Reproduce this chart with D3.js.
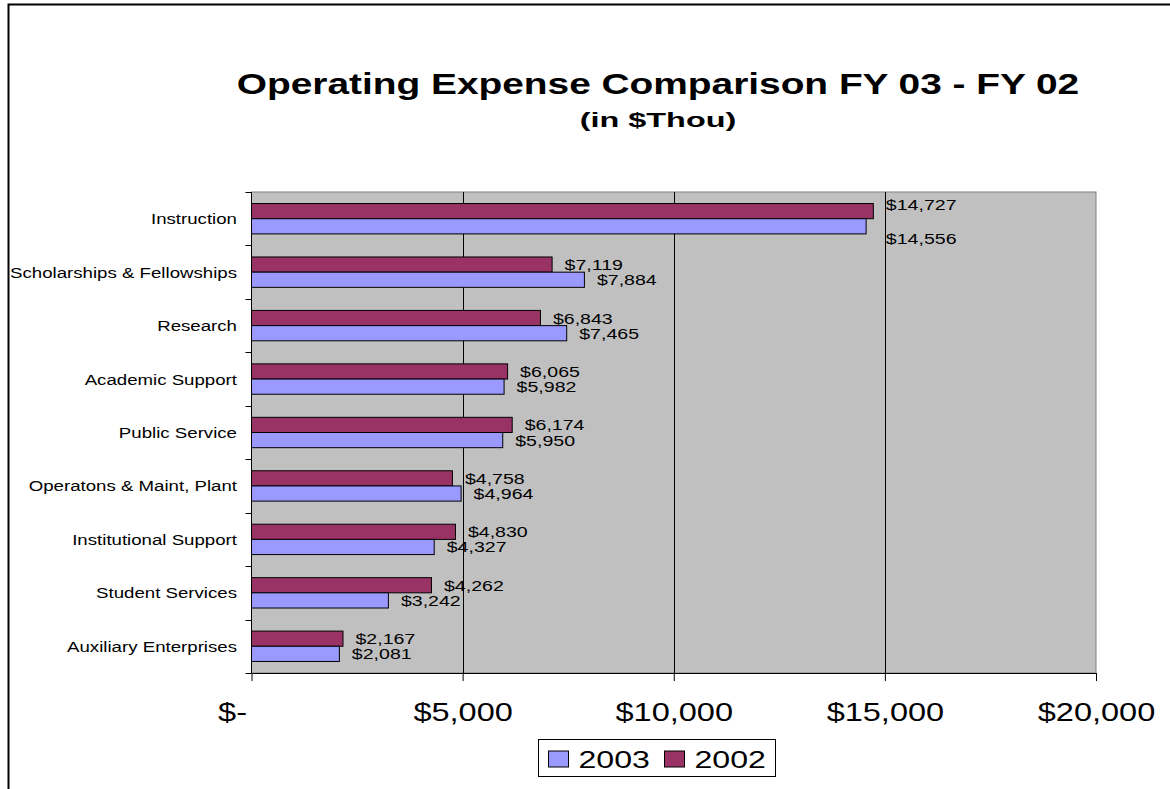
<!DOCTYPE html>
<html>
<head>
<meta charset="utf-8">
<script src="https://cdn.jsdelivr.net/npm/d3@7"></script>
<style>
  html, body { margin: 0; padding: 0; background: #fff; }
  svg { display: block; font-family: "Liberation Sans", Arial, sans-serif; }
</style>
</head>
<body>
<svg id="chart" width="1170" height="789"></svg>
<script>
// data ($ thousands)
const categories = [
  "Instruction",
  "Scholarships & Fellowships",
  "Research",
  "Academic Support",
  "Public Service",
  "Operatons & Maint, Plant",
  "Institutional Support",
  "Student Services",
  "Auxiliary Enterprises"
];
const values2003 = [14556, 7884, 7465, 5982, 5950, 4964, 4327, 3242, 2081];
const values2002 = [14727, 7119, 6843, 6065, 6174, 4758, 4830, 4262, 2167];
const bandOrder = ["2002", "2003"];     // top to bottom inside each category
const legendOrder = ["2003", "2002"];
const xTicks = [0, 5000, 10000, 15000, 20000];
const titleText = "Operating Expense Comparison FY 03 - FY 02";
const subtitleText = "(in $Thou)";

const seriesValues = { "2003": values2003, "2002": values2002 };
const colors = { "2003": "#9999ff", "2002": "#993366" };

const plot = { left: 251.5, right: 1096, top: 192, bottom: 673 };

const svg = d3.select("#chart");

// the original text is drawn wider than it is tall, so stretch it horizontally
function place(sel, x, y, k) {
  sel.attr("transform", `translate(${x},${y}) scale(${k},1)`);
}

const money = d => d === 0 ? "$-" : d3.format("$,")(d);

const x = d3.scaleLinear()
  .domain([xTicks[0], xTicks[xTicks.length - 1]])
  .range([plot.left, plot.right]);

const y = d3.scaleBand()
  .domain(categories)
  .range([plot.top, plot.bottom]);

const ySub = d3.scaleBand()
  .domain(bandOrder)
  .range([0, y.bandwidth()])
  .paddingOuter(0.76);

// outer chart frame
svg.append("rect")
  .attr("x", 8.5).attr("y", 4.5)
  .attr("width", 1200).attr("height", 900)
  .attr("fill", "none")
  .attr("stroke", "#000")
  .attr("stroke-width", 2);

// titles
svg.append("text")
  .attr("text-anchor", "middle")
  .attr("font-size", 29)
  .attr("font-weight", "bold")
  .text(titleText)
  .call(place, 658, 94, 1.34);

svg.append("text")
  .attr("text-anchor", "middle")
  .attr("font-size", 20)
  .attr("font-weight", "bold")
  .text(subtitleText)
  .call(place, 658, 127, 1.62);

// plot area
svg.append("rect")
  .attr("x", plot.left).attr("y", plot.top)
  .attr("width", plot.right - plot.left)
  .attr("height", plot.bottom - plot.top)
  .attr("fill", "#c0c0c0")
  .attr("stroke", "#808080");

// vertical gridlines
svg.append("g")
  .selectAll("line")
  .data(xTicks.slice(1, -1))
  .enter()
  .append("line")
    .attr("x1", d => Math.round(x(d)) + 0.5)
    .attr("x2", d => Math.round(x(d)) + 0.5)
    .attr("y1", plot.top)
    .attr("y2", plot.bottom)
    .attr("stroke", "#000");

// bars
const rows = svg.append("g")
  .selectAll("g")
  .data(categories)
  .enter()
  .append("g")
    .attr("transform", d => `translate(0,${y(d)})`);

rows.selectAll("rect")
  .data((c, i) => bandOrder.map(s => ({ series: s, value: seriesValues[s][i] })))
  .enter()
  .append("rect")
    .attr("x", x(0))
    .attr("y", d => ySub(d.series))
    .attr("width", d => x(d.value) - x(0))
    .attr("height", ySub.bandwidth())
    .attr("fill", d => colors[d.series])
    .attr("stroke", "#000")
    .attr("stroke-width", 1);

// value labels; the Instruction pair was moved clear of its bars in the original
const labelNudge = { "Instruction": { "2002": -7, "2003": 12 } };

rows.each(function (c, i) {
  const nudge = labelNudge[c];
  const reach = nudge ? d3.max(bandOrder, s => seriesValues[s][i]) : null;
  d3.select(this).selectAll("text")
    .data(bandOrder.map(s => ({ series: s, value: seriesValues[s][i] })))
    .enter()
    .append("text")
      .attr("font-size", 15.4)
      .attr("fill", "#000")
      .text(d => money(d.value))
      .each(function (d) {
        const lx = x(reach !== null ? reach : d.value) + 12.5;
        const ly = ySub(d.series) + ySub.bandwidth() / 2 + 5.5 + (nudge ? nudge[d.series] : 0);
        d3.select(this).call(place, lx, ly, 1.27);
      });
});

// category axis (ticks sit on the band boundaries)
const yAxis = svg.append("g");
yAxis.append("line")
  .attr("x1", plot.left).attr("x2", plot.left)
  .attr("y1", plot.top).attr("y2", plot.bottom)
  .attr("stroke", "#000");

yAxis.selectAll("line.tick")
  .data(categories.map(c => y(c)).concat([plot.bottom]))
  .enter()
  .append("line")
    .attr("class", "tick")
    .attr("x1", plot.left - 6).attr("x2", plot.left)
    .attr("y1", d => Math.round(d) + 0.5)
    .attr("y2", d => Math.round(d) + 0.5)
    .attr("stroke", "#000");

yAxis.selectAll("text")
  .data(categories)
  .enter()
  .append("text")
    .attr("text-anchor", "end")
    .attr("font-size", 15.3)
    .attr("fill", "#000")
    .text(d => d)
    .each(function (d) {
      d3.select(this).call(place, plot.left - 14.5, y(d) + y.bandwidth() / 2 + 5.5, 1.22);
    });

// value axis
const xAxis = d3.axisBottom(x)
  .tickValues(xTicks)
  .tickSize(8)
  .tickSizeOuter(0)
  .tickFormat(money);

const xg = svg.append("g")
  .attr("transform", `translate(0,${plot.bottom})`)
  .call(xAxis);

xg.select(".domain").attr("stroke", "#000");
xg.selectAll(".tick line").attr("stroke", "#000");
xg.selectAll(".tick text")
  .attr("y", null)
  .attr("dy", null)
  .attr("fill", "#000")
  .attr("font-size", 25.6)
  .attr("font-family", "'Liberation Sans', Arial, sans-serif")
  .attr("text-anchor", d => d === 0 ? "end" : "middle")
  .each(function (d) {
    d3.select(this).call(place, d === 0 ? -5 : 0, 48, 1.27);
  });

// legend
const legend = svg.append("g").attr("transform", "translate(538.5,739.5)");
legend.append("rect")
  .attr("width", 237).attr("height", 37)
  .attr("fill", "#fff")
  .attr("stroke", "#000");

const items = legend.selectAll("g")
  .data(legendOrder)
  .enter()
  .append("g")
    .attr("transform", (d, i) => `translate(${10 + i * 116},0)`);

items.append("rect")
  .attr("y", 11.5)
  .attr("width", 20).attr("height", 16)
  .attr("fill", d => colors[d])
  .attr("stroke", "#000");

items.append("text")
  .attr("font-size", 24.7)
  .attr("fill", "#000")
  .text(d => d)
  .call(place, 30, 28.5, 1.3);
</script>
</body>
</html>
